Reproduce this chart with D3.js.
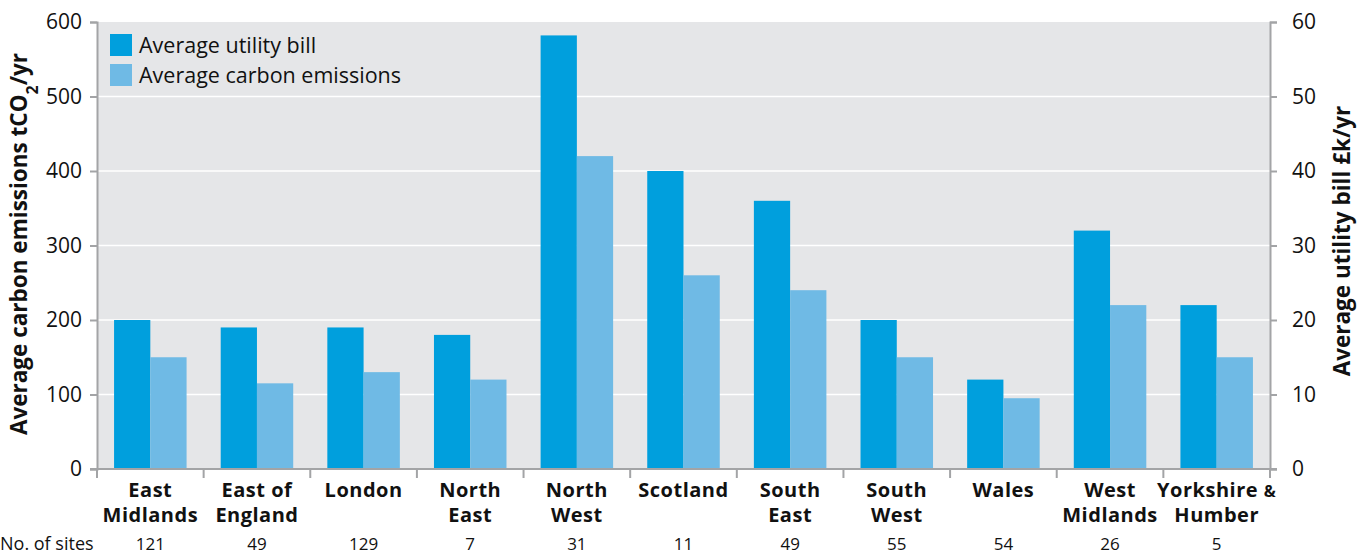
<!DOCTYPE html>
<html>
<head>
<meta charset="utf-8">
<script src="https://cdn.jsdelivr.net/npm/d3@7"></script>
<style>
  body { margin: 0; background: #fff; }
  text { font-family: "Open Sans", sans-serif; fill: #111; }
</style>
</head>
<body>
<script>
const w = 1369;
const h = 554;

// regions and their values
const regions = ["East Midlands", "East of England", "London", "North East", "North West",
                 "Scotland", "South East", "South West", "Wales", "West Midlands", "Yorkshire & Humber"];
const labelLines = [["East", "Midlands"], ["East of", "England"], ["London"], ["North", "East"],
                    ["North", "West"], ["Scotland"], ["South", "East"], ["South", "West"],
                    ["Wales"], ["West", "Midlands"], ["Yorkshire &", "Humber"]];
const utilityBill = [20, 19, 19, 18, 58.2, 40, 36, 20, 12, 32, 22];       // £k/yr
const carbon = [150, 115, 130, 120, 420, 260, 240, 150, 95, 220, 150];     // tCO2/yr
const sites = [121, 49, 129, 7, 31, 11, 49, 55, 54, 26, 5];
const leftTicks = [0, 100, 200, 300, 400, 500, 600];
const rightTicks = [0, 10, 20, 30, 40, 50, 60];

const colBill = "#009fdd";
const colCarbon = "#6fbae5";

const pLeft = 97, pRight = 1270, pTop = 22, pBottom = 469;

const svg = d3.select("body")
              .append("svg")
              .attr("width", w)
              .attr("height", h);

const yLeft = d3.scaleLinear().domain([0, 600]).range([pBottom, pTop]);
const yRight = d3.scaleLinear().domain([0, 60]).range([pBottom, pTop]);

const x0 = d3.scaleBand().domain(regions).range([pLeft, pRight]).padding(0);
const x1 = d3.scaleBand().domain(["bill", "carbon"])
             .range([x0.bandwidth() * 0.16, x0.bandwidth() * 0.84]);

// plot background
svg.append("rect")
   .attr("x", pLeft).attr("y", pTop)
   .attr("width", pRight - pLeft).attr("height", pBottom - pTop)
   .attr("fill", "#e5e6e8");

// gridlines
svg.append("g").selectAll("line")
   .data(leftTicks.slice(1, -1))
   .join("line")
   .attr("x1", pLeft).attr("x2", pRight)
   .attr("y1", d => yLeft(d)).attr("y2", d => yLeft(d))
   .attr("stroke", "#fff").attr("stroke-width", 1.5);

// bars
const groups = svg.append("g").selectAll("g")
   .data(regions)
   .join("g")
   .attr("transform", d => "translate(" + x0(d) + ",0)");

groups.append("rect")
   .attr("x", x1("bill"))
   .attr("width", x1.bandwidth())
   .attr("y", (d, i) => yRight(utilityBill[i]))
   .attr("height", (d, i) => pBottom - yRight(utilityBill[i]))
   .attr("fill", colBill);

groups.append("rect")
   .attr("x", x1("carbon"))
   .attr("width", x1.bandwidth())
   .attr("y", (d, i) => yLeft(carbon[i]))
   .attr("height", (d, i) => pBottom - yLeft(carbon[i]))
   .attr("fill", colCarbon);

// axes
const axisColor = "#a3a4a6";

const gl = svg.append("g")
   .attr("transform", "translate(" + pLeft + ",0)")
   .call(d3.axisLeft(yLeft).tickValues(leftTicks).tickSize(7).tickPadding(8));
const gr = svg.append("g")
   .attr("transform", "translate(" + pRight + ",0)")
   .call(d3.axisRight(yRight).tickValues(rightTicks).tickSize(7).tickPadding(15));

[gl, gr].forEach(g => {
  g.select(".domain").attr("stroke", axisColor).attr("stroke-width", 2);
  g.selectAll(".tick line").attr("stroke", axisColor).attr("stroke-width", 2);
  g.selectAll(".tick text")
   .attr("font-family", "'Liberation Sans', Arial, sans-serif")
   .attr("font-size", 21).attr("fill", "#111");
});

// bottom axis line and band separators
svg.append("line")
   .attr("x1", pLeft - 7).attr("x2", pRight + 7)
   .attr("y1", pBottom).attr("y2", pBottom)
   .attr("stroke", axisColor).attr("stroke-width", 2);

const bounds = regions.map(r => x0(r)).concat([pRight]);
svg.append("g").selectAll("line")
   .data(bounds)
   .join("line")
   .attr("x1", d => d).attr("x2", d => d)
   .attr("y1", pBottom).attr("y2", pBottom + 9)
   .attr("stroke", axisColor).attr("stroke-width", 2);

// category labels, one text per line
const labelData = [];
regions.forEach((r, i) => {
  labelLines[i].forEach((line, j) => labelData.push({ region: r, line: line, row: j }));
});

const cat = svg.append("g").selectAll("text")
   .data(labelData)
   .join("text")
   .attr("text-anchor", "middle")
   .attr("font-family", "'Liberation Sans', Arial, sans-serif")
   .attr("font-weight", "bold")
   .attr("font-size", 20)
   .attr("letter-spacing", 0.5)
   .attr("x", d => x0(d.region) + x0.bandwidth() / 2)
   .attr("y", d => 496.5 + d.row * 25.5);

cat.each(function(d) {
  const t = d3.select(this);
  if (d.line.endsWith("&")) {
    t.text(d.line.slice(0, -1));
    t.append("tspan").attr("font-size", 16).text("&");
  } else {
    t.text(d.line);
  }
});

// number of sites
svg.append("text")
   .attr("x", 0).attr("y", 550)
   .attr("font-size", 18)
   .text("No. of sites");

svg.append("g").selectAll("text")
   .data(regions)
   .join("text")
   .attr("text-anchor", "middle")
   .attr("font-size", 17)
   .attr("x", d => x0(d) + x0.bandwidth() / 2)
   .attr("y", 550)
   .text((d, i) => sites[i]);

// axis titles
const lt = svg.append("text")
   .attr("transform", "translate(27,244) rotate(-90)")
   .attr("text-anchor", "middle")
   .attr("font-weight", "bold")
   .attr("font-size", 22.5)
   .text("Average carbon emissions tCO");
lt.append("tspan").attr("baseline-shift", "sub").attr("font-size", 16).text("2");
lt.append("tspan").text("/yr");

svg.append("text")
   .attr("transform", "translate(1350,241) rotate(-90)")
   .attr("text-anchor", "middle")
   .attr("font-weight", "bold")
   .attr("font-size", 22.5)
   .text("Average utility bill £k/yr");

// legend
const legend = [["Average utility bill", colBill], ["Average carbon emissions", colCarbon]];
const lg = svg.append("g").selectAll("g")
   .data(legend)
   .join("g")
   .attr("transform", (d, i) => "translate(110," + (34 + i * 30) + ")");
lg.append("rect").attr("width", 22).attr("height", 22).attr("fill", d => d[1]);
lg.append("text").attr("x", 29).attr("y", 18.5).attr("font-size", 21.5).text(d => d[0]);
</script>
</body>
</html>
